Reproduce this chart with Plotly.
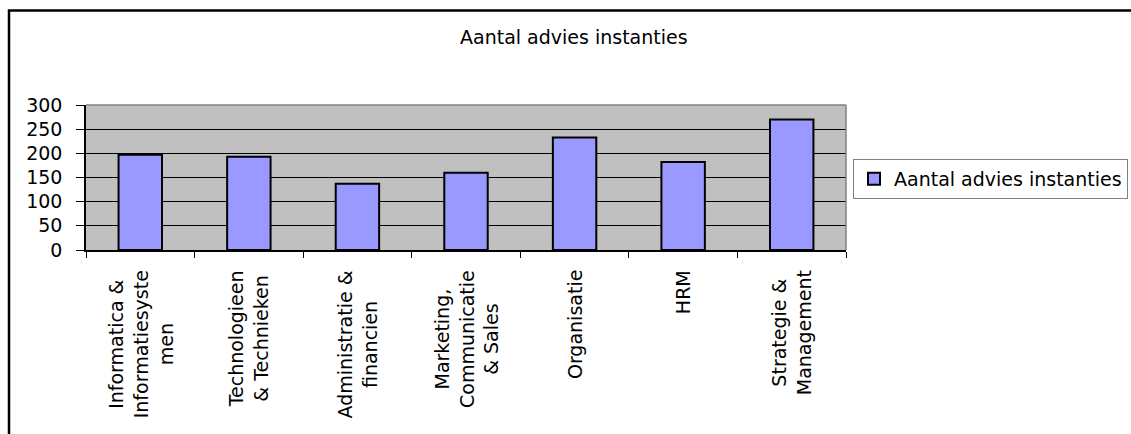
import plotly.graph_objects as go

# Data
categories = [
    "Informatica &<br>Informatiesyste<br>men",
    "Technologieen<br>& Technieken",
    "Administratie &<br>financien",
    "Marketing,<br>Communicatie<br>& Sales",
    "Organisatie",
    "HRM",
    "Strategie &<br>Management",
]
values = [197, 193, 137, 160, 233, 182, 270]
series_name = "Aantal advies instanties"
chart_title = "Aantal advies instanties"
y_ticks = [0, 50, 100, 150, 200, 250, 300]

FONT = "DejaVu Sans"
W, H = 1131, 434
L, R, T, B = 86, 285, 105, 184

fig = go.Figure()
fig.add_trace(go.Bar(
    x=categories,
    y=values,
    name=series_name,
    width=0.4,
    marker=dict(color="#9999FF", line=dict(color="#000000", width=2)),
    showlegend=True,
))

pw = W - L - R
ph = H - T - B


def px_x(p):
    return (p - L) / pw


def px_y(p):
    return (H - B - p) / ph


# Category labels, rotated and centred line by line
annotations = []
for cat in categories:
    annotations.append(dict(
        x=cat, xref="x", y=0, yref="y",
        text=cat, textangle=-90, align="center",
        xanchor="center", yanchor="top", yshift=-18,
        showarrow=False,
        font=dict(family=FONT, size=19, color="#000000"),
    ))

# Chart title
annotations.append(dict(
    x=px_x(574), xref="paper",
    y=px_y(37), yref="paper",
    text=chart_title, showarrow=False,
    xanchor="center", yanchor="middle",
    font=dict(family=FONT, size=19, color="#000000"),
))

shapes = [
    # outer chart frame
    dict(type="rect", xref="paper", yref="paper",
         x0=px_x(9), x1=px_x(1160), y0=px_y(10.5), y1=px_y(470),
         line=dict(color="#000000", width=2.5), layer="above"),
    # plot area border: top and right edges
    dict(type="line", xref="paper", yref="paper",
         x0=0, x1=1, y0=1, y1=1,
         line=dict(color="#808080", width=1.5), layer="above"),
    dict(type="line", xref="paper", yref="paper",
         x0=1, x1=1, y0=0, y1=1,
         line=dict(color="#808080", width=1.5), layer="above"),
]

fig.update_layout(
    width=W, height=H,
    margin=dict(l=L, r=R, t=T, b=B, pad=0, autoexpand=False),
    paper_bgcolor="#FFFFFF",
    plot_bgcolor="#C0C0C0",
    font=dict(family=FONT, size=19, color="#000000"),
    bargap=0.6,
    annotations=annotations,
    shapes=shapes,
    legend=dict(
        x=px_x(853), xanchor="left",
        y=px_y(159), yanchor="top",
        bgcolor="#FFFFFF",
        bordercolor="#808080", borderwidth=1,
        font=dict(family=FONT, size=19, color="#000000"),
        itemwidth=30,
    ),
    xaxis=dict(
        type="category",
        showticklabels=False,
        tickson="boundaries",
        ticks="outside", ticklen=6, tickcolor="#000000", tickwidth=1,
        showline=True, linecolor="#000000", linewidth=1.5,
        showgrid=False, zeroline=False,
    ),
    yaxis=dict(
        range=[0, 300],
        tickvals=y_ticks,
        ticks="outside", ticklen=8, tickcolor="#000000", tickwidth=1,
        ticklabelstandoff=10,
        showline=True, linecolor="#000000", linewidth=1.5,
        showgrid=True, gridcolor="#000000", gridwidth=1,
        zeroline=False,
        tickfont=dict(family=FONT, size=19, color="#000000"),
    ),
)

fig.write_html("out.html")
